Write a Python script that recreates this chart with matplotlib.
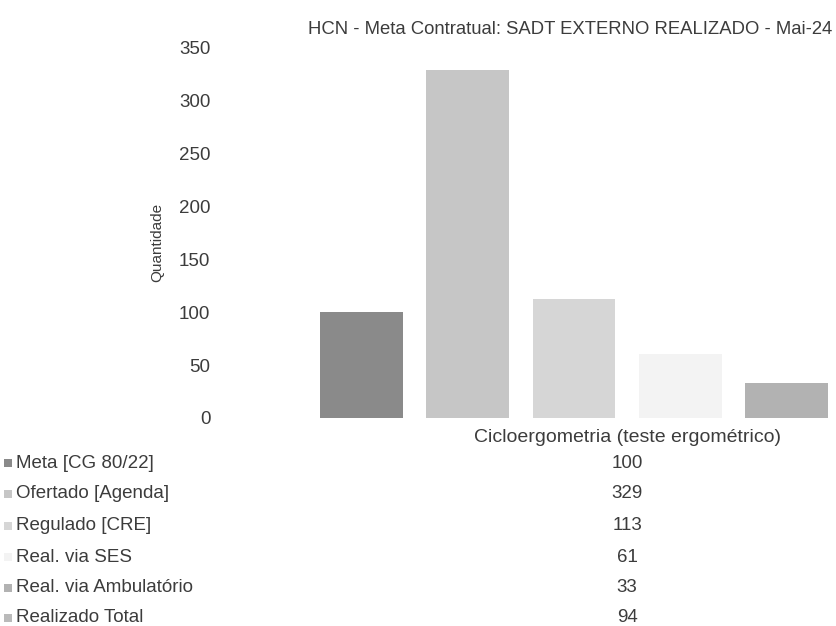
import matplotlib
matplotlib.use("Agg")
import matplotlib.pyplot as plt
import matplotlib.transforms as mtransforms

plt.rcParams['font.family'] = ['Liberation Sans', 'DejaVu Sans']

# data (one category, six series)
category = "Cicloergometria (teste ergométrico)"
series = ["Meta [CG 80/22]", "Ofertado [Agenda]", "Regulado [CRE]",
          "Real. via SES", "Real. via Ambulatório", "Realizado Total"]
values = [100, 329, 113, 61, 33, 94]
colors = ["#8a8a8a", "#c6c6c6", "#d6d6d6", "#f3f3f3", "#b2b2b2", "#bababa"]

TXT = "#3c3c3c"
W, H = 837, 626

fig = plt.figure(figsize=(W / 100, H / 100), dpi=100)

# plot area: the picture is cropped on the right, last bar falls outside
left_px, bottom_px, top_px = 220, 418, 48
ax = fig.add_axes([left_px / W, 1 - bottom_px / H, 1 - left_px / W,
                   (bottom_px - top_px) / H])

pitch = 106.25  # pixels per bar slot
x0 = -(361.5 - left_px) / pitch
ax.set_xlim(x0, x0 + (W - left_px) / pitch)
ax.set_ylim(0, 350)

for i, (v, c) in enumerate(zip(values, colors)):
    ax.bar(i, v, width=0.78, color=c, linewidth=0)

for s in ax.spines.values():
    s.set_visible(False)
ax.set_xticks([])
ax.set_yticks(range(0, 351, 50))
ax.tick_params(axis='y', length=0, pad=7, labelsize=13.5, labelcolor=TXT)

fig.text(157 / W, 1 - 242 / H, "Quantidade", rotation=90, ha='center',
         va='center', fontsize=11, color=TXT)

fig.text(832 / W, 1 - 29 / H,
         "HCN - Meta Contratual: SADT EXTERNO REALIZADO - Mai-24",
         ha='right', va='center', fontsize=13.3, color=TXT)

# data table under the plot
trans = mtransforms.blended_transform_factory(ax.transData, fig.transFigure)
cx = (len(values) - 1) / 2
ax.text(cx, 1 - 437 / H, category, transform=trans, ha='center',
        va='center', fontsize=14, color=TXT, clip_on=False)

row_y = [463, 494, 526, 557, 588, 618]
for name, v, c, y in zip(series, values, colors, row_y):
    yf = 1 - y / H
    fig.patches.append(plt.Rectangle((4 / W, yf - 4 / H), 8 / W, 8 / H,
                                     transform=fig.transFigure,
                                     facecolor=c, edgecolor='none'))
    fig.text(16 / W, yf, name, ha='left', va='center', fontsize=13.5,
             color=TXT)
    ax.text(cx, yf, str(v), transform=trans, ha='center', va='center',
            fontsize=13.5, color=TXT, clip_on=False)

fig.savefig("out.png", dpi=100)
